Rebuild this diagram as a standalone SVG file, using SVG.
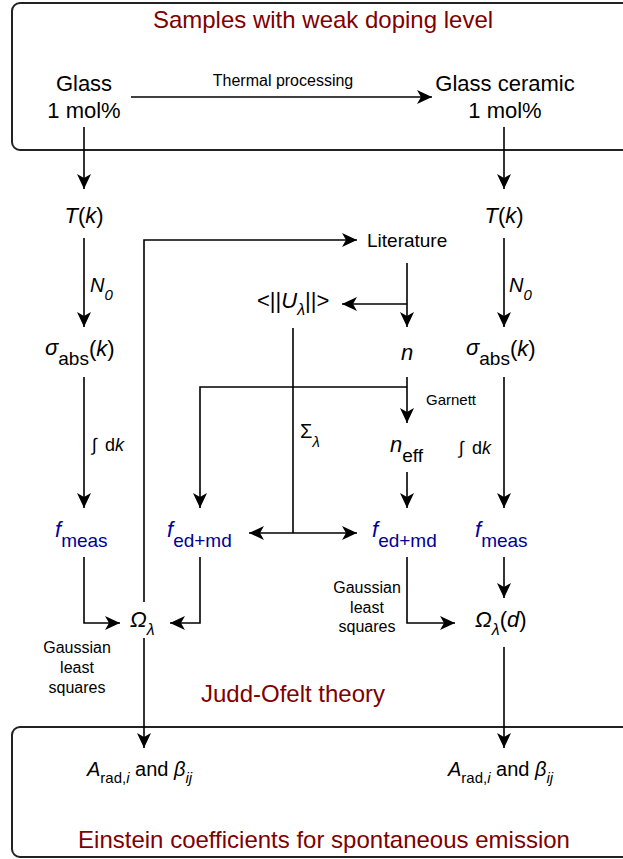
<svg xmlns="http://www.w3.org/2000/svg" width="623" height="859" viewBox="0 0 623 859">
<defs>
<marker id="arr" markerUnits="userSpaceOnUse" markerWidth="16" markerHeight="15" refX="15" refY="7" orient="auto">
<path d="M0,0 L15,7 L0,14 L4,7 Z" fill="#000"/>
</marker>
<style>
text{font-family:"Liberation Sans",Arial,sans-serif;fill:#000}
.title{font-size:24px;fill:#800000;text-anchor:middle}
.big{font-size:22px}
.mid{text-anchor:middle}
.sm{font-size:16px}
.it{font-style:italic}
.blue{fill:#000099}
.box{fill:none;stroke:#222;stroke-width:2}
.c path{fill:none;stroke:#000;stroke-width:1.6}
.c path.a{marker-end:url(#arr)}
</style>
</defs>

<g id="box-samples">
<rect class="box" x="12" y="3" width="640" height="147" rx="8"/>
<text class="title" x="323" y="28">Samples with weak doping level</text>
</g>
<g id="box-einstein">
<rect class="box" x="12" y="727" width="640" height="130" rx="8"/>
<text class="title" x="324" y="848">Einstein coefficients for spontaneous emission</text>
</g>
<g id="judd-ofelt">
<text class="title" x="293" y="702">Judd-Ofelt theory</text>
</g>

<g id="glass">
<text class="big mid" x="84" y="91">Glass</text>
<text class="big mid" x="84" y="118">1 mol%</text>
</g>
<g id="glass-ceramic">
<text class="big mid" x="505" y="91">Glass ceramic</text>
<text class="big mid" x="505" y="118">1 mol%</text>
</g>

<g id="T-left"><text class="big mid" x="84" y="223"><tspan class="it">T</tspan>(<tspan class="it">k</tspan>)</text></g>
<g id="T-right"><text class="big mid" x="504" y="223"><tspan class="it">T</tspan>(<tspan class="it">k</tspan>)</text></g>

<g id="sigma-left"><text class="big" x="45" y="355"><tspan class="it">σ</tspan><tspan font-size="19" dy="10">abs</tspan><tspan dy="-9">(</tspan><tspan class="it">k</tspan>)</text></g>
<g id="sigma-right"><text class="big" x="466" y="355"><tspan class="it">σ</tspan><tspan font-size="19" dy="10">abs</tspan><tspan dy="-9">(</tspan><tspan class="it">k</tspan>)</text></g>

<g id="literature"><text x="367" y="247" font-size="19">Literature</text></g>
<g id="U"><text class="big" x="257" y="308">&lt;||<tspan class="it">U</tspan><tspan class="it" font-size="16" dy="7">λ</tspan><tspan dy="-7">||&gt;</tspan></text></g>
<g id="n"><text class="big mid it" x="407" y="360">n</text></g>
<g id="n-eff"><text class="big" x="390" y="452"><tspan class="it">n</tspan><tspan font-size="19" dy="10">eff</tspan></text></g>

<g id="fmeas-left"><text class="big blue" x="55" y="537"><tspan class="it">f</tspan><tspan font-size="19" dy="10">meas</tspan></text></g>
<g id="fedmd-left"><text class="big blue" x="167" y="537"><tspan class="it">f</tspan><tspan font-size="19" dy="10">ed+md</tspan></text></g>
<g id="fedmd-right"><text class="big blue" x="372" y="537"><tspan class="it">f</tspan><tspan font-size="19" dy="10">ed+md</tspan></text></g>
<g id="fmeas-right"><text class="big blue" x="475" y="537"><tspan class="it">f</tspan><tspan font-size="19" dy="10">meas</tspan></text></g>

<g id="omega-left"><text class="big" x="130" y="627"><tspan class="it">Ω</tspan><tspan class="it" font-size="16" dy="8">λ</tspan></text></g>
<g id="omega-right"><text class="big" x="475" y="627"><tspan class="it">Ω</tspan><tspan class="it" font-size="16" dy="8">λ</tspan><tspan dy="-8">(</tspan><tspan class="it">d</tspan>)</text></g>

<g id="A-left"><text font-size="20" x="87" y="776"><tspan class="it">A</tspan><tspan font-size="15" dy="7">rad,</tspan><tspan class="it" font-size="15">i</tspan><tspan dy="-7"> and </tspan><tspan class="it">β</tspan><tspan class="it" font-size="15" dy="7">ij</tspan></text></g>
<g id="A-right"><text font-size="20" x="448" y="776"><tspan class="it">A</tspan><tspan font-size="15" dy="7">rad,</tspan><tspan class="it" font-size="15">i</tspan><tspan dy="-7"> and </tspan><tspan class="it">β</tspan><tspan class="it" font-size="15" dy="7">ij</tspan></text></g>

<g id="connectors" class="c">
<path class="a" d="M131,97 H432"/>
<path class="a" d="M84,127 V189"/>
<path class="a" d="M504,127 V189"/>
<path class="a" d="M84,238 V327"/>
<path class="a" d="M84,377 V508"/>
<path class="a" d="M84,557 V623 H120"/>
<path class="a" d="M200,557 V623 H170"/>
<path class="a" d="M144,602 V240 H357"/>
<path class="a" d="M407,263 V327"/>
<path class="a" d="M407,304 H342"/>
<path class="a" d="M407,377 V423"/>
<path class="a" d="M407,387 H200 V508"/>
<path d="M293,328 V533"/>
<path class="a" d="M293,533 H249"/>
<path class="a" d="M293,533 H357"/>
<path class="a" d="M407,472 V508"/>
<path class="a" d="M407,557 V623 H455"/>
<path class="a" d="M504,238 V327"/>
<path class="a" d="M504,377 V508"/>
<path class="a" d="M504,557 V598"/>
<path class="a" d="M504,647 V748"/>
<path class="a" d="M144,638 V748"/>
</g>

<g id="labels">
<text class="sm mid" x="283" y="86">Thermal processing</text>
<text font-size="20" x="90" y="292"><tspan class="it">N</tspan><tspan class="it" font-size="15" dy="8">0</tspan></text>
<text font-size="20" x="509" y="292"><tspan class="it">N</tspan><tspan class="it" font-size="15" dy="8">0</tspan></text>
<text font-size="18" x="92" y="451">∫<tspan dx="8">d</tspan><tspan class="it">k</tspan></text>
<text font-size="18" x="459" y="454">∫<tspan dx="8">d</tspan><tspan class="it">k</tspan></text>
<text font-size="15" x="426" y="405">Garnett</text>
<text font-size="20" x="300" y="438">Σ<tspan class="it" font-size="15" dy="9">λ</tspan></text>
<text class="sm mid" x="77" y="653">Gaussian</text>
<text class="sm mid" x="77" y="673">least</text>
<text class="sm mid" x="77" y="693">squares</text>
<text class="sm mid" x="367" y="593">Gaussian</text>
<text class="sm mid" x="367" y="613">least</text>
<text class="sm mid" x="367" y="632">squares</text>
</g>
</svg>
